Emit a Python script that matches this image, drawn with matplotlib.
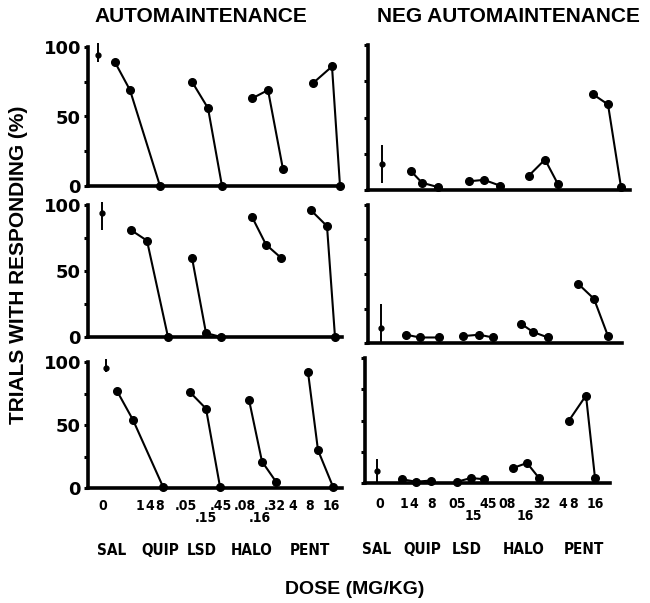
import matplotlib.pyplot as plt

W, H = 650, 603

# dose groups on the x axis
groups = ['SAL', 'QUIP', 'LSD', 'HALO', 'PENT']

# horizontal slot of every point (same units as the panel x range)
am_x = [
    [[98], [115, 130, 160], [192, 208, 222], [252, 268, 283], [313, 332, 340]],
    [[102], [131, 147, 168], [192, 206, 221], [252, 266, 281], [311, 327, 335]],
    [[106], [117, 133, 163], [190, 206, 220], [249, 262, 276], [308, 318, 333]],
]
neg_x = [
    [[382], [411, 422, 438], [469, 484, 500], [529, 545, 558], [593, 608, 621]],
    [[381], [406, 420, 439], [463, 479, 493], [521, 533, 548], [578, 594, 608]],
    [[377], [402, 416, 431], [457, 471, 484], [513, 527, 539], [569, 586, 595]],
]

# % trials with responding, one list per dose group
am_y = [
    [[94], [89, 69, 0], [75, 56, 0], [63, 69, 12], [74, 86, 0]],
    [[94], [81, 73, 0], [60, 3, 0], [91, 70, 60], [96, 84, 0]],
    [[95], [77, 54, 1], [76, 63, 1], [70, 21, 5], [92, 30, 1]],
]
neg_y = [
    [[18], [13, 5, 2], [6, 7, 3], [10, 21, 4], [66, 59, 2]],
    [[11], [6, 4, 4], [5, 6, 4], [14, 8, 4], [43, 32, 5]],
    [[10], [3, 1, 2], [1, 4, 3], [12, 16, 4], [50, 70, 4]],
]
# saline error bars (below, above)
am_err = [([5], [9]), ([13], [8]), ([3], [7])]
neg_err = [([13], [13]), ([11], [17]), ([10], [9])]

am_dose = ['0', '1', '4', '8', '.05', '.45', '.08', '.32', '4', '8', '16']
am_dose_low = ['.15', '.16']
neg_dose = ['0', '1', '4', '8', '05', '45', '08', '32', '4', '8', '16']
neg_dose_low = ['15', '16']

# panel boxes in pixels: x0, x1, y of 100, y of 0
am_box = [(88, 342, 47, 186), (88, 342, 205, 337), (88, 342, 362, 488)]
neg_box = [(368, 630, 45, 190), (368, 622, 205, 343), (365, 610, 358, 483)]

am_dose_px = [103, 140, 150, 160, 186, 221, 245, 275, 293, 310, 331]
am_low_px = [206, 260]
neg_dose_px = [380, 404, 414, 432, 457, 488, 507, 542, 563, 574, 595]
neg_low_px = [473, 525]
am_group_px = [112, 160, 202, 252, 310]
neg_group_px = [377, 422, 467, 524, 584]

fig = plt.figure(figsize=(W / 100, H / 100), dpi=100)


def ftext(x, y, s, **kw):
    fig.text(x / W, 1 - y / H, s, **kw)


def panel(box, xs, ys, err, labels):
    x0, x1, ytop, ybot = box
    ax = fig.add_axes([x0 / W, 1 - ybot / H, (x1 - x0) / W, (ybot - ytop) / H])
    ax.set_xlim(x0, x1)
    ax.set_ylim(0, 100)
    for s in ['top', 'right']:
        ax.spines[s].set_visible(False)
    for s in ['left', 'bottom']:
        ax.spines[s].set_linewidth(2.6)
    ax.set_xticks([])
    ax.set_yticks([0, 25, 50, 75, 100])
    ax.tick_params(axis='y', direction='out', length=3, width=2.2, pad=2)
    if labels:
        ax.set_yticklabels(['0', '', '50', '', '100'], fontsize=13,
                           fontweight='bold', family='DejaVu Sans')
    else:
        ax.set_yticklabels([])
    ax.errorbar(xs[0], ys[0], yerr=err, fmt='o', ms=3.5, color='k',
                elinewidth=1.4, capsize=0, clip_on=False)
    for gx, gy in zip(xs[1:], ys[1:]):
        ax.plot(gx, gy, '-o', color='k', lw=1.5, ms=5.5, clip_on=False)
    return ax


for i in range(3):
    panel(am_box[i], am_x[i], am_y[i], am_err[i], True)
    panel(neg_box[i], neg_x[i], neg_y[i], neg_err[i], False)

lab = dict(ha='center', va='center_baseline', fontsize=10, fontweight='bold',
           family='DejaVu Sans', fontstretch='condensed')
for s, x in zip(am_dose, am_dose_px):
    ftext(x, 505, s, **lab)
for s, x in zip(am_dose_low, am_low_px):
    ftext(x, 517, s, **lab)
for s, x in zip(neg_dose, neg_dose_px):
    ftext(x, 503, s, **lab)
for s, x in zip(neg_dose_low, neg_low_px):
    ftext(x, 515, s, **lab)
for s, x in zip(groups, am_group_px):
    ftext(x, 549, s, **dict(lab, fontsize=11))
for s, x in zip(groups, neg_group_px):
    ftext(x, 548, s, **dict(lab, fontsize=11))

head = dict(ha='center', va='center', fontsize=15, fontweight='bold',
            family='Liberation Sans')
ftext(201, 17, 'AUTOMAINTENANCE', **head)
ftext(508, 17, 'NEG AUTOMAINTENANCE', **head)
ftext(19, 265, 'TRIALS WITH RESPONDING (%)', rotation=90, **head)
ftext(355, 590, 'DOSE (MG/KG)', **dict(head, fontsize=14))

fig.savefig('out.png', dpi=100)
